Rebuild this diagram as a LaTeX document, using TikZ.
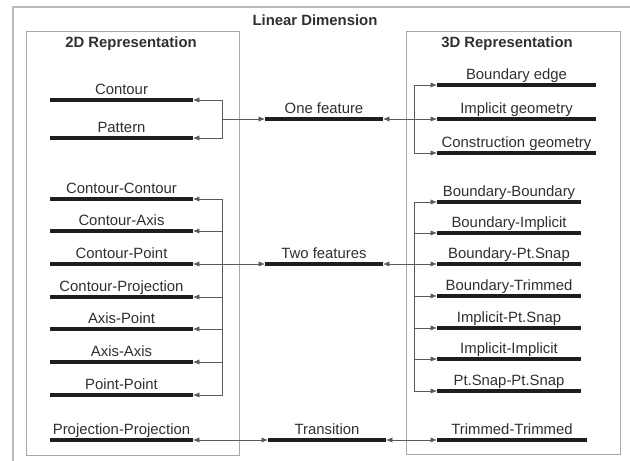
\documentclass[tikz,border=0pt]{standalone}
\usepackage{fontspec}
\setmainfont{Liberation Sans}
\usetikzlibrary{arrows.meta, positioning}
\definecolor{inkDark}{HTML}{1E1E1E}
\definecolor{inkText}{HTML}{303030}
\definecolor{wireGray}{HTML}{5A5A5A}
\definecolor{frameGray}{HTML}{A8A8A8}
\tikzset{
    featLine/.style={
        minimum width=#1*0.03cm,
        minimum height=0pt,
        inner sep=0pt,
        outer sep=0pt
    },
    featStroke/.style={line width=3.2pt, draw=inkDark, line cap=butt},
    featLabel/.style={
        font=\fontsize{12.7}{15}\selectfont,
        text=inkText,
        inner sep=0pt,
        text depth=0.22em,
        yshift=2pt
    },
    titleText/.style={font=\fontsize{12.7}{15}\selectfont\bfseries, text=inkText, inner sep=0pt},
    conn/.style={draw=wireGray, line width=0.6pt},
    boxFrame/.style={draw=frameGray, line width=0.8pt},
    outerFrame/.style={draw=frameGray!80, line width=1.4pt}
}

\begin{document}
\begin{tikzpicture}[x=0.03cm, y=-0.03cm, >={Latex[length=5.5pt, width=4.5pt]}]
            \useasboundingbox (0,0) rectangle (630,461);
            \clip (0,0) rectangle (630,461);

            % Frames
            \draw[outerFrame] (13,7) rectangle (645,475);
            \draw[boxFrame] (26,31) rectangle (239,455);
            \draw[boxFrame] (406,31) rectangle (620,454);

            % Titles
            \node[titleText] (tLinear) at (315,20) {Linear Dimension};
            \node[titleText] (t2D) at (131,44) {2D Representation};
            \node[titleText] (t3D) at (507,44) {3D Representation};

            % 2D features
            \node[featLine=143, label={[featLabel]above:Contour}] (fContour) at (121.5,100) {};
            \node[featLine=143, label={[featLabel]above:Pattern}] (fPattern) at (121.5,138) {};
            \node[featLine=143, label={[featLabel]above:Contour-Contour}] (fConCon) at (121.5,199) {};
            \node[featLine=143, label={[featLabel]above:Contour-Axis}] (fConAxis) at (121.5,231) {};
            \node[featLine=143, label={[featLabel]above:Contour-Point}] (fConPoint) at (121.5,264) {};
            \node[featLine=143, label={[featLabel]above:Contour-Projection}] (fConProj) at (121.5,297) {};
            \node[featLine=143, label={[featLabel]above:Axis-Point}] (fAxisPoint) at (121.5,329) {};
            \node[featLine=143, label={[featLabel]above:Axis-Axis}] (fAxisAxis) at (121.5,362) {};
            \node[featLine=143, label={[featLabel]above:Point-Point}] (fPointPoint) at (121.5,395) {};
            \node[featLine=143, label={[featLabel]above:Projection-Projection}] (fProjProj) at (121.5,440) {};

            % Linear dimension types
            \node[featLine=118, label={[featLabel]above:One feature}] (fOne) at (324,119) {};
            \node[featLine=118, label={[featLabel]above:Two features}] (fTwo) at (324,264) {};
            \node[featLine=118, label={[featLabel]above:Transition}] (fTrans) at (327,440) {};

            % 3D features
            \node[featLine=159, label={[featLabel]above:Boundary edge}] (fBoundEdge) at (516.5,85) {};
            \node[featLine=159, label={[featLabel]above:Implicit geometry}] (fImplGeom) at (516.5,119) {};
            \node[featLine=159, label={[featLabel]above:Construction geometry}] (fConstrGeom) at (516.5,153) {};
            \node[featLine=144, label={[featLabel]above:Boundary-Boundary}] (fBoundBound) at (509,202) {};
            \node[featLine=144, label={[featLabel]above:Boundary-Implicit}] (fBoundImpl) at (509,233) {};
            \node[featLine=144, label={[featLabel]above:Boundary-Pt.Snap}] (fBoundSnap) at (509,264) {};
            \node[featLine=144, label={[featLabel]above:Boundary-Trimmed}] (fBoundTrim) at (509,296) {};
            \node[featLine=144, label={[featLabel]above:Implicit-Pt.Snap}] (fImplSnap) at (509,328) {};
            \node[featLine=144, label={[featLabel]above:Implicit-Implicit}] (fImplImpl) at (509,359) {};
            \node[featLine=144, label={[featLabel]above:Pt.Snap-Pt.Snap}] (fSnapSnap) at (509,391) {};
            \node[featLine=150, label={[featLabel]above:Trimmed-Trimmed}] (fTrimTrim) at (512,440) {};

            % Thick feature lines
            \foreach \n in {fContour, fPattern, fConCon, fConAxis, fConPoint, fConProj,
                fAxisPoint, fAxisAxis, fPointPoint, fProjProj, fOne, fTwo, fTrans,
                fBoundEdge, fImplGeom, fConstrGeom, fBoundBound, fBoundImpl, fBoundSnap,
                fBoundTrim, fImplSnap, fImplImpl, fSnapSnap, fTrimTrim}
                \draw[featStroke] (\n.west) -- (\n.east);

            % Junctions
            \coordinate (jLeftOne) at (222,119);
            \coordinate (jRightOne) at (414,119);
            \coordinate (jLeftTwo) at (222,264);
            \coordinate (jRightTwo) at (414,264);

            % One feature connectors
            \draw[conn, ->] (jLeftOne) |- (fContour.east);
            \draw[conn, ->] (jLeftOne) |- (fPattern.east);
            \draw[conn, ->] (jLeftOne) -- (fOne.west);
            \draw[conn, ->] (jRightOne) -- (fOne.east);
            \draw[conn, ->] (jRightOne) |- (fBoundEdge.west);
            \draw[conn, ->] (jRightOne) -- (fImplGeom.west);
            \draw[conn, ->] (jRightOne) |- (fConstrGeom.west);

            % Two features connectors
            \foreach \n in {fConCon, fConAxis, fConPoint, fConProj, fAxisPoint, fAxisAxis, fPointPoint}
                \draw[conn, ->] (jLeftTwo) |- (\n.east);
            \draw[conn, ->] (jLeftTwo) -- (fTwo.west);
            \draw[conn, ->] (jRightTwo) -- (fTwo.east);
            \foreach \n in {fBoundBound, fBoundImpl, fBoundSnap, fBoundTrim, fImplSnap, fImplImpl, fSnapSnap}
                \draw[conn, ->] (jRightTwo) |- (\n.west);

            % Transition connectors
            \draw[conn, <->] (fProjProj.east) -- (fTrans.west);
            \draw[conn, <->] (fTrans.east) -- (fTrimTrim.west);
        \end{tikzpicture}
\end{document}
